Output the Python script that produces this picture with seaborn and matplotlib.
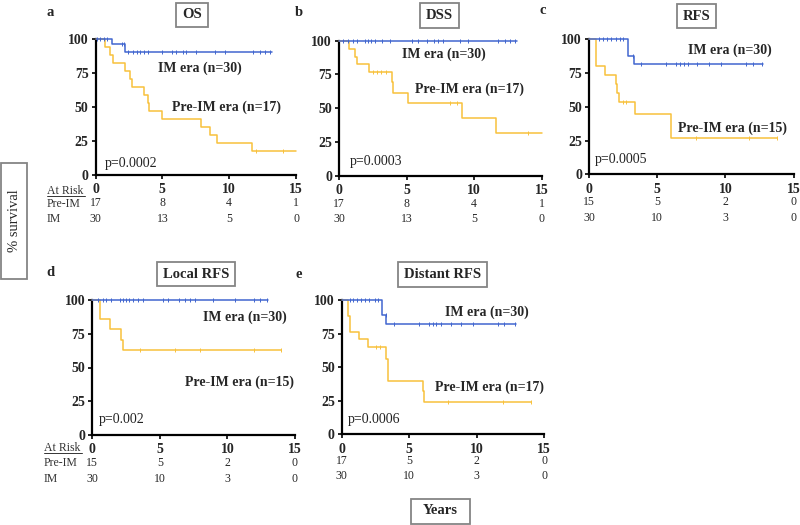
import numpy as np
import pandas as pd
import matplotlib
matplotlib.use("Agg")
import matplotlib.pyplot as plt
import seaborn as sns
from matplotlib.patches import Rectangle
from matplotlib.transforms import blended_transform_factory

# ---------------- data ----------------
# OS
OS_PRE_T = [0, 0.7, 1.1, 1.3, 2.2, 2.6, 2.7, 3.6, 3.9, 4.0, 5.0, 7.9, 8.6, 9.1, 11.7, 15.0]
OS_PRE_S = [100, 94.1, 88.2, 82.4, 76.5, 70.6, 64.7, 58.8, 52.9, 47.1, 41.2, 35.3, 29.4, 23.5, 17.6, 17.6]
OS_PRE_C = [12.0, 14.0]
OS_IM_T = [0, 1.2, 2.2, 13.2]
OS_IM_S = [100, 96.7, 91.0, 91.0]
OS_IM_C = [0.1, 0.35, 0.6, 0.85, 1.95, 2.1, 2.45, 2.8, 3.1, 3.35, 3.6, 3.95, 4.95, 5.7,
           6.0, 6.55, 6.8, 7.55, 8.95, 9.7, 11.8, 12.3, 12.7, 13.05]
# DSS
DSS_PRE_T = [0, 0.75, 1.2, 1.35, 2.2, 3.9, 4.0, 5.1, 9.1, 11.6, 15.0]
DSS_PRE_S = [100, 94.1, 88.2, 82.4, 76.5, 69.6, 61.5, 53.8, 42.5, 32.0, 32.0]
DSS_PRE_C = [2.5, 2.8, 3.1, 3.5, 8.2, 8.7, 14.0]
DSS_IM_T = [0, 13.15]
DSS_IM_S = [100, 100]
DSS_IM_C = [0.3, 0.7, 1.05, 1.3, 1.9, 2.15, 2.4, 2.65, 3.15, 3.75, 5.4, 5.85, 6.5, 7.0,
            7.35, 7.7, 8.95, 9.55, 11.8, 12.3, 12.65, 13.0]
# RFS
RFS_PRE_T = [0, 0.55, 1.2, 1.95, 2.05, 2.2, 3.35, 6.0, 13.8]
RFS_PRE_S = [100, 80.0, 73.3, 66.7, 60.0, 53.3, 44.4, 26.7, 26.7]
RFS_PRE_C = [2.5, 2.75, 7.85, 11.7, 13.8]
RFS_IM_T = [0, 2.85, 3.3, 12.75]
RFS_IM_S = [100, 87.5, 81.7, 81.7]
RFS_IM_C = [0.7, 1.05, 1.3, 1.65, 2.0, 2.25, 2.5, 3.2, 3.85, 5.65, 6.4, 6.65, 7.0, 7.25,
            7.95, 8.8, 9.65, 11.5, 12.0, 12.7]
# Local RFS
LRFS_PRE_T = [0, 0.6, 1.3, 2.15, 2.3, 14.0]
LRFS_PRE_S = [100, 85.7, 78.6, 70.7, 62.9, 62.9]
LRFS_PRE_C = [3.5, 6.1, 7.95, 12.0, 14.0]
LRFS_IM_T = [0, 13.0]
LRFS_IM_S = [100, 100]
LRFS_IM_C = [0.4, 0.8, 1.05, 1.4, 2.05, 2.25, 2.5, 2.75, 3.0, 3.4, 3.75, 5.25, 5.6, 6.45,
             6.85, 7.2, 7.6, 8.95, 10.55, 12.0, 12.4, 12.9]
# Distant RFS
DRFS_PRE_T = [0, 0.5, 0.6, 1.25, 1.95, 3.3, 3.4, 6.0, 6.1, 14.0]
DRFS_PRE_S = [100, 88.2, 76.5, 70.6, 64.7, 56.0, 40.0, 32.0, 24.0, 24.0]
DRFS_PRE_C = [2.55, 2.8, 7.9, 11.95, 14.0]
DRFS_IM_T = [0, 2.95, 3.3, 12.9]
DRFS_IM_S = [100, 88.5, 82.5, 82.5]
DRFS_IM_C = [0.6, 0.85, 1.1, 1.45, 1.7, 2.05, 2.45, 2.7, 3.25, 3.9, 5.75, 6.5, 6.75, 7.0,
             7.35, 8.1, 8.85, 9.7, 11.55, 12.05, 12.8]

TITLES = ["OS", "DSS", "RFS", "Local RFS", "Distant RFS"]
LETTERS = ["a", "b", "c", "d", "e"]
PVALUES = ["p=0.0002", "p=0.0003", "p=0.0005", "p=0.002", "p=0.0006"]
IM_LABELS = ["IM era (n=30)"] * 5
PRE_LABELS = ["Pre-IM era (n=17)", "Pre-IM era (n=17)", "Pre-IM era (n=15)",
              "Pre-IM era (n=15)", "Pre-IM era (n=17)"]
RISK_TIMES = [0, 5, 10, 15]
RISK_PRE = [[17, 8, 4, 1], [17, 8, 4, 1], [15, 5, 2, 0], [15, 5, 2, 0], [17, 5, 2, 0]]
RISK_IM = [[30, 13, 5, 0], [30, 13, 5, 0], [30, 10, 3, 0], [30, 10, 3, 0], [30, 10, 3, 0]]
X_TICKS = [0, 5, 10, 15]
Y_TICKS = [0, 25, 50, 75, 100]

PANELS = [
    (OS_PRE_T, OS_PRE_S, OS_PRE_C, OS_IM_T, OS_IM_S, OS_IM_C),
    (DSS_PRE_T, DSS_PRE_S, DSS_PRE_C, DSS_IM_T, DSS_IM_S, DSS_IM_C),
    (RFS_PRE_T, RFS_PRE_S, RFS_PRE_C, RFS_IM_T, RFS_IM_S, RFS_IM_C),
    (LRFS_PRE_T, LRFS_PRE_S, LRFS_PRE_C, LRFS_IM_T, LRFS_IM_S, LRFS_IM_C),
    (DRFS_PRE_T, DRFS_PRE_S, DRFS_PRE_C, DRFS_IM_T, DRFS_IM_S, DRFS_IM_C),
]

# ---------------- layout (pixels) ----------------
W, H = 800, 525
# x0, x15, y100, y0
AX_PX = [(95.5, 296, 39.3, 175), (339, 541.7, 40.7, 175.7), (589, 793.5, 39.3, 174.3),
         (92.3, 295, 300, 435), (341.7, 544.3, 300, 434.3)]
TITLE_PX = [(192, 15), (439.5, 15.5), (696.7, 16), (195.8, 274), (442.5, 274.5)]
LETTER_PX = [(50, 12), (299, 13), (543, 10), (50, 273), (299, 275)]
IM_PX = [(158.3, 68), (401.7, 54), (688, 50), (203, 317), (445, 312)]
PRE_PX = [(171.7, 107), (415, 89), (678, 128), (185, 382), (435, 387)]
P_PX = [(105, 163), (350, 161), (595, 160), (99, 420), (348, 419)]
RISK_ROWS_PX = [(203, 219), (204, 219), (202, 218), (463, 479), (461, 476)]

BLUE = "#4166cf"
YELLOW = "#f8c13c"
BOXEDGE = "#858585"

sns.set_style("ticks")
plt.rcParams["font.family"] = ["Liberation Serif", "DejaVu Serif"]

fig = plt.figure(figsize=(W / 100, H / 100), dpi=100)
fig.patch.set_facecolor("white")


def fx(x):
    return x / W


def fy(y):
    return 1 - y / H


def step_level(T, S, c):
    i = np.searchsorted(np.asarray(T), c, side="right") - 1
    return np.asarray(S)[i]


for k, (pt, ps, pc, it, is_, ic) in enumerate(PANELS):
    x0, x15, y100, y0 = AX_PX[k]
    ax = fig.add_axes([fx(x0), fy(y0), (x15 - x0) / W, (y0 - y100) / H])
    ax.set_xlim(0, 15)
    ax.set_ylim(0, 100)

    for T, S, C, col in [(pt, ps, pc, YELLOW), (it, is_, ic, BLUE)]:
        df = pd.DataFrame({"t": T, "s": S})
        sns.lineplot(data=df, x="t", y="s", ax=ax, color=col, lw=1.1,
                     drawstyle="steps-post", estimator=None, sort=False,
                     clip_on=False, zorder=3)
        cdf = pd.DataFrame({"t": C, "s": [step_level(T, S, c) for c in C]})
        sns.scatterplot(data=cdf, x="t", y="s", ax=ax, color=col, marker="|",
                        s=7, linewidth=0.7, clip_on=False, zorder=3)

    ax.set_xticks(X_TICKS)
    ax.set_yticks(Y_TICKS)
    ax.set_xticklabels([str(v) for v in X_TICKS], fontweight="bold", fontsize=10)
    ax.set_yticklabels([str(v) for v in Y_TICKS], fontweight="bold", fontsize=10)
    ax.tick_params(axis="both", direction="out", length=3, width=1.2, color="black",
                   pad=2)
    ax.tick_params(axis="x", pad=3)
    for side in ["top", "right"]:
        ax.spines[side].set_visible(False)
    for side in ["left", "bottom"]:
        ax.spines[side].set_linewidth(1.6)
        ax.spines[side].set_color("black")
    ax.set_xlabel("")
    ax.set_ylabel("")
    ax.patch.set_alpha(0)

    # titles, letters, labels
    tx, ty = TITLE_PX[k]
    fig.text(fx(tx), fy(ty), TITLES[k], ha="center", va="center", fontsize=10.5,
             fontweight="bold",
             bbox=dict(boxstyle="square,pad=0.4", fc="white", ec=BOXEDGE, lw=1.3))
    lx, ly = LETTER_PX[k]
    fig.text(fx(lx), fy(ly), LETTERS[k], ha="center", va="center", fontsize=10.5,
             fontweight="bold")
    fig.text(fx(IM_PX[k][0]), fy(IM_PX[k][1]), IM_LABELS[k], ha="left", va="center",
             fontsize=10, fontweight="bold")
    fig.text(fx(PRE_PX[k][0]), fy(PRE_PX[k][1]), PRE_LABELS[k], ha="left",
             va="center", fontsize=10, fontweight="bold")
    fig.text(fx(P_PX[k][0]), fy(P_PX[k][1]), PVALUES[k], ha="left", va="center",
             fontsize=10, color="#222222")

    # at-risk numbers
    tr = blended_transform_factory(ax.transData, fig.transFigure)
    r1, r2 = RISK_ROWS_PX[k]
    for t, a, b in zip(RISK_TIMES, RISK_PRE[k], RISK_IM[k]):
        ax.text(t, fy(r1), str(a), transform=tr, ha="center", va="center",
                fontsize=8.5, clip_on=False)
        ax.text(t, fy(r2), str(b), transform=tr, ha="center", va="center",
                fontsize=8.5, clip_on=False)

# at-risk row labels
for (lx, yh, y1, y2) in [(47, 191, 204, 219), (44, 448, 463, 479)]:
    fig.text(fx(lx), fy(yh), "At Risk", ha="left", va="center", fontsize=8.5,
             color="#333333")
    fig.add_artist(plt.Line2D([fx(lx), fx(lx + 38)], [fy(yh + 5), fy(yh + 5)],
                              color="#333333", lw=0.7, transform=fig.transFigure))
    fig.text(fx(lx), fy(y1), "Pre-IM", ha="left", va="center", fontsize=8.5,
             color="#333333")
    fig.text(fx(lx), fy(y2), "IM", ha="left", va="center", fontsize=8.5,
             color="#333333")

# y label box
fig.add_artist(Rectangle((fx(1), fy(279)), 26 / W, 116 / H, transform=fig.transFigure,
                         fc="white", ec=BOXEDGE, lw=1.3))
fig.text(fx(14), fy(221), "% survival", rotation=90, ha="center", va="center",
         fontsize=10.5)

# x label box
fig.add_artist(Rectangle((fx(410.5), fy(523.5)), 59.5 / W, 25 / H,
                         transform=fig.transFigure, fc="white", ec=BOXEDGE, lw=1.3))
fig.text(fx(440.5), fy(511), "Years", ha="center", va="center", fontsize=10.5,
         fontweight="bold")

fig.savefig("out.png", dpi=100, facecolor="white")
